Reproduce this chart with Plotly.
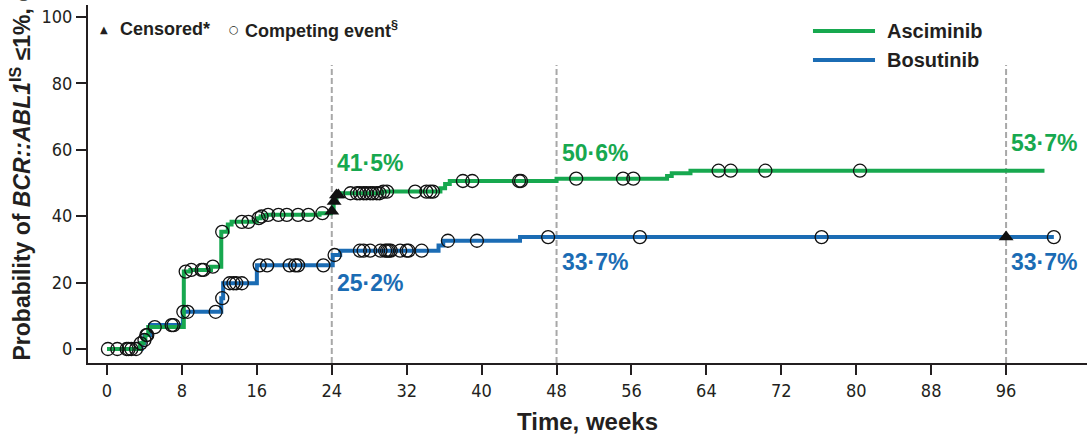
import numpy as np
import plotly.graph_objects as go

# Cumulative incidence step curves (weeks, %)
asc_step_weeks = [0, 3.5, 3.9, 4.1, 4.4, 8.2, 8.9, 11.1, 12.2, 12.9, 13.3, 16.0, 16.4, 17.0,
                  22.7, 23.9, 24.2, 24.5, 24.9, 29.4, 35.6, 36.1, 36.6, 48.0, 59.8, 60.3, 62.3, 100.1]
asc_step_pct = [0, 1.7, 2.7, 4.2, 6.6, 23.3, 23.8, 24.8, 35.3, 37.5, 38.3, 39.4, 39.9, 40.4,
                40.9, 41.5, 44.4, 46.4, 46.9, 47.4, 48.4, 49.7, 50.6, 51.3, 52.1, 52.9, 53.7, 53.7]

bos_step_weeks = [0, 3.7, 4.0, 4.6, 8.1, 12.2, 12.4, 16.0, 24.1, 24.9, 35.4, 35.9, 44.1, 101.1]
bos_step_pct = [0, 1.7, 4.2, 7.2, 11.2, 15.3, 19.8, 25.2, 28.3, 29.6, 31.2, 32.6, 33.7, 33.7]

# Event times (weeks)
asc_censored_weeks = [24.0, 24.25, 24.5, 24.7]
bos_censored_weeks = [96.0]

asc_competing_weeks = [0.1, 2.1, 2.6, 3.6, 4.0, 4.2, 5.1, 8.4, 9.0, 10.1, 10.3, 11.3, 12.3, 14.4,
                       15.1, 16.2, 16.5, 17.2, 18.3, 19.2, 20.4, 21.5, 23.0, 26.0, 26.7, 27.0, 27.4,
                       27.7, 28.1, 28.4, 28.8, 29.1, 29.5, 29.9, 32.9, 34.1, 34.5, 34.8, 38.0, 39.0,
                       44.0, 44.2, 50.1, 55.1, 56.2, 65.3, 66.6, 70.3, 80.4]
bos_competing_weeks = [1.1, 2.3, 3.1, 4.3, 6.9, 7.1, 8.15, 8.6, 11.6, 12.3, 13.1, 13.5, 13.8, 14.4,
                       16.3, 17.1, 19.5, 20.1, 20.4, 23.1, 24.3, 27.0, 27.4, 28.1, 29.2, 29.7, 29.9,
                       30.1, 30.3, 31.3, 32.0, 32.2, 33.6, 36.4, 39.5, 47.1, 56.9, 76.3, 101.1]

# Landmark estimates (week, %)
landmark_weeks = [24, 48, 96]
asc_landmark_pct = [41.5, 50.6, 53.7]
bos_landmark_pct = [25.2, 33.7, 33.7]

x_ticks = [0, 8, 16, 24, 32, 40, 48, 56, 64, 72, 80, 88, 96]
y_ticks = [0, 20, 40, 60, 80, 100]

GREEN = "#17a84f"
BLUE = "#1b6cb4"
INK = "#231f20"
BOLD = "Liberation Sans, Arial, sans-serif"
NARROW = ("Liberation Sans Narrow, Arial Narrow, DejaVu Sans Condensed, "
          "Liberation Sans, sans-serif")


def level_at(step_x, step_y, t):
    idx = np.searchsorted(np.asarray(step_x), np.asarray(t), side="right") - 1
    return np.asarray(step_y)[idx]


def fmt(v):
    return f"{v:.1f}".replace(".", "·") + "%"


fig = go.Figure()

for sx, sy, col, name in [(bos_step_weeks, bos_step_pct, BLUE, "Bosutinib"),
                          (asc_step_weeks, asc_step_pct, GREEN, "Asciminib")]:
    fig.add_trace(go.Scatter(x=sx, y=sy, mode="lines", line=dict(color=col, width=4, shape="hv"),
                             name=name, showlegend=False, hoverinfo="skip"))

for sx, sy, cw in [(asc_step_weeks, asc_step_pct, asc_competing_weeks),
                   (bos_step_weeks, bos_step_pct, bos_competing_weeks)]:
    fig.add_trace(go.Scatter(x=cw, y=level_at(sx, sy, cw), mode="markers", showlegend=False,
                             marker=dict(symbol="circle-open", size=13, color="#111",
                                         line=dict(width=1.3, color="#111"))))

for sx, sy, cw in [(asc_step_weeks, asc_step_pct, asc_censored_weeks),
                   (bos_step_weeks, bos_step_pct, bos_censored_weeks)]:
    fig.add_trace(go.Scatter(x=cw, y=level_at(sx, sy, cw), mode="markers", showlegend=False,
                             marker=dict(symbol="triangle-up", size=13, color="#111")))

# Dashed landmark lines
for w in landmark_weeks:
    fig.add_shape(type="line", xref="x", yref="y", x0=w, x1=w, y0=-4.2, y1=85.5,
                  line=dict(color="#a8a8a8", width=2, dash="6px,3px"), layer="below")

# Landmark percentages
for w, a, b in zip(landmark_weeks, asc_landmark_pct, bos_landmark_pct):
    fig.add_annotation(x=w + 0.35, y=a + (14.5 if w == 24 else 8.4), text=fmt(a), showarrow=False,
                       xanchor="left", yanchor="middle",
                       font=dict(family=BOLD, size=23, color=GREEN, weight="bold"))
    fig.add_annotation(x=w + 0.35, y=b - (5.3 if w == 24 else 7.5), text=fmt(b), showarrow=False,
                       xanchor="left", yanchor="middle",
                       font=dict(family=BOLD, size=23, color=BLUE, weight="bold"))

# Line key, upper right
for yp, col, name in [(0.9274, GREEN, "Asciminib"), (0.8464, BLUE, "Bosutinib")]:
    fig.add_shape(type="line", xref="paper", yref="paper", x0=0.7257, x1=0.7878, y0=yp, y1=yp,
                  line=dict(color=col, width=4))
    fig.add_annotation(xref="paper", yref="paper", x=0.7978, y=yp, text=f"<b>{name}</b>",
                       showarrow=False, xanchor="left", yanchor="middle",
                       font=dict(family=BOLD, size=20, color=INK))

# Marker key, upper left
key_y = (363 - 29) / 358
fig.add_annotation(xref="paper", yref="paper", x=(104 - 88) / 999, y=key_y, text="▲",
                   showarrow=False, xanchor="center", yanchor="middle",
                   font=dict(family="DejaVu Sans", size=10, color=INK))
fig.add_annotation(xref="paper", yref="paper", x=(118 - 88) / 999, y=key_y,
                   text="<b>Censored*</b>", showarrow=False, xanchor="left", yanchor="middle",
                   font=dict(family=BOLD, size=18, color=INK))
fig.add_annotation(xref="paper", yref="paper", x=(234 - 88) / 999, y=key_y, text="○",
                   showarrow=False, xanchor="center", yanchor="middle",
                   font=dict(family="DejaVu Sans", size=11, color=INK))
fig.add_annotation(xref="paper", yref="paper", x=(243 - 88) / 999, y=key_y,
                   text="<b>Competing event<sup>§</sup></b>", showarrow=False, xanchor="left",
                   yanchor="middle", font=dict(family=BOLD, size=18, color=INK))

# Axis titles
fig.add_annotation(xref="paper", yref="paper", x=0.5, y=(363 - 421) / 358, text="<b>Time, weeks</b>",
                   showarrow=False, xanchor="center", yanchor="middle",
                   font=dict(family=BOLD, size=24, color=INK))
fig.add_annotation(xref="paper", yref="paper", x=(20 - 88) / 999, y=0.0,
                   text="<b>Probability of <i>BCR::ABL1</i><sup>IS</sup> ≤1%, cumulative incidence</b>",
                   showarrow=False, xanchor="center", yanchor="bottom", textangle=-90,
                   font=dict(family=BOLD, size=23, color=INK))

axis_common = dict(showline=True, linewidth=2, linecolor=INK, ticks="outside", ticklen=10,
                   tickwidth=2, tickcolor=INK, showgrid=False, zeroline=False,
                   tickfont=dict(family=NARROW, size=18, color=INK))

fig.update_layout(
    width=1087, height=435,
    margin=dict(l=88, r=0, t=5, b=72),
    paper_bgcolor="white", plot_bgcolor="white",
    showlegend=False,
    xaxis=dict(range=[-2.03, 104.64], tickvals=x_ticks, ticktext=[str(v) for v in x_ticks],
               **axis_common),
    yaxis=dict(range=[-4.22, 103.6], tickvals=y_ticks, ticktext=[str(v) for v in y_ticks],
               **axis_common),
)

fig.write_html("out.html")
